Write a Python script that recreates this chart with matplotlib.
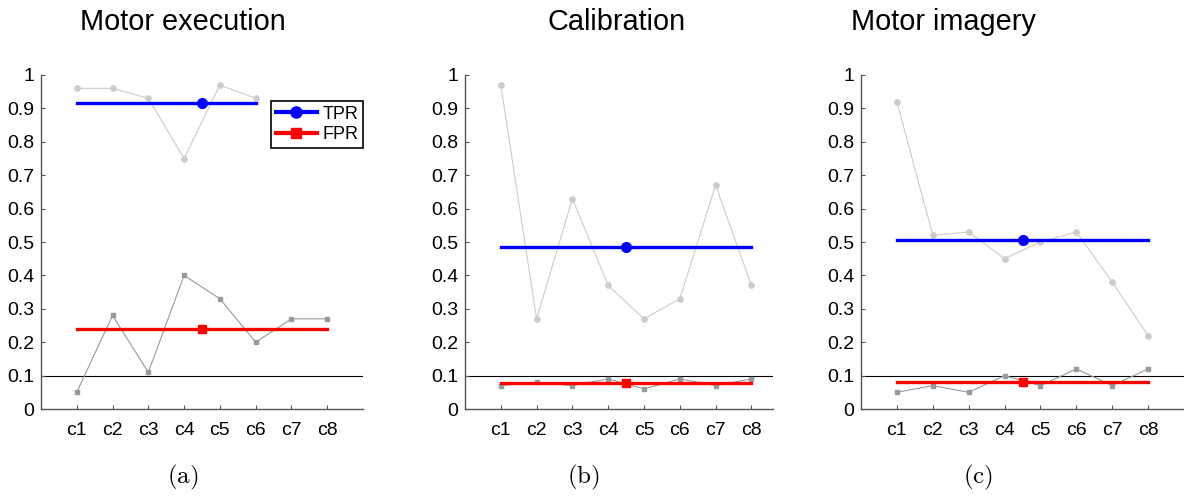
import matplotlib
matplotlib.use('Agg')
import matplotlib.pyplot as plt
import numpy as np

plt.rcParams['font.family'] = ['Liberation Sans', 'DejaVu Sans']
plt.rcParams['mathtext.fontset'] = 'cm'

conds = ['c1', 'c2', 'c3', 'c4', 'c5', 'c6', 'c7', 'c8']
titles = ['Motor execution', 'Calibration', 'Motor imagery']
captions = ['(a)', '(b)', '(c)']

# per-condition rates
tpr_exec = [0.96, 0.96, 0.93, 0.75, 0.97, 0.93]   # only c1..c6
fpr_exec = [0.05, 0.28, 0.11, 0.40, 0.33, 0.20, 0.27, 0.27]
tpr_calib = [0.97, 0.27, 0.63, 0.37, 0.27, 0.33, 0.67, 0.37]
fpr_calib = [0.07, 0.08, 0.07, 0.09, 0.06, 0.09, 0.07, 0.09]
tpr_imag = [0.92, 0.52, 0.53, 0.45, 0.50, 0.53, 0.38, 0.22]
fpr_imag = [0.05, 0.07, 0.05, 0.10, 0.07, 0.12, 0.07, 0.12]

threshold = 0.1

panels = [(tpr_exec, fpr_exec), (tpr_calib, fpr_calib), (tpr_imag, fpr_imag)]

fig = plt.figure(figsize=(11.84, 4.98), dpi=100)
# [left, bottom, width, height] and right x-limit for each subplot
rects = [[0.0346, 0.1787, 0.2720, 0.6707],
         [0.3927, 0.1787, 0.2601, 0.6707],
         [0.7272, 0.1787, 0.2728, 0.6707]]
xright = [9, 8.6, 9]
title_x = [183, 617, 943]
cap_x = [183, 583, 978]

for i, (tpr, fpr) in enumerate(panels):
    ax = fig.add_axes(rects[i])
    xt = np.arange(1, len(tpr) + 1)
    xf = np.arange(1, len(fpr) + 1)
    ax.axhline(threshold, color='black', lw=0.8, zorder=1)
    ax.plot(xt, tpr, '-o', color='#cccccc', lw=0.8, ms=3.8, mec='#cccccc', zorder=2)
    ax.plot(xf, fpr, '-s', color='#999999', lw=0.8, ms=3.3, mec='#999999', zorder=2)

    mt = np.mean(tpr)
    mf = np.mean(fpr)
    ax.plot([xt[0], xt[-1]], [mt, mt], color='blue', lw=2.4, zorder=3)
    ax.plot([xf[0], xf[-1]], [mf, mf], color='red', lw=2.4, zorder=3)
    ax.plot([4.5], [mt], 'o', color='blue', ms=7, zorder=4)
    ax.plot([4.5], [mf], 's', color='red', ms=6, zorder=4)

    ax.set_xlim(0, xright[i])
    ax.set_ylim(0, 1)
    ax.set_xticks(np.arange(1, 9))
    ax.set_xticklabels(conds)
    ax.set_yticks(np.arange(0, 1.01, 0.1))
    ax.set_yticklabels(['0'] + ['%.1f' % v for v in np.arange(0.1, 0.95, 0.1)] + ['1'])
    ax.tick_params(direction='in', length=3, labelsize=14, color='#555555', pad=5)
    ax.tick_params(axis='x', pad=9)
    for s in ['top', 'right']:
        ax.spines[s].set_visible(False)
    for s in ['left', 'bottom']:
        ax.spines[s].set_color('#555555')
        ax.spines[s].set_linewidth(1.0)

    if i == 0:
        h1, = ax.plot([], [], '-o', color='blue', lw=3, ms=8)
        h2, = ax.plot([], [], '-s', color='red', lw=3, ms=7)
        leg = ax.legend([h1, h2], ['TPR', 'FPR'], loc='upper right',
                        bbox_to_anchor=(1.0, 0.922), fontsize=13, fancybox=False,
                        framealpha=1, edgecolor='black', handlelength=2.3,
                        borderpad=0.25, labelspacing=0.2, handletextpad=0.3,
                        borderaxespad=0)
        leg.get_frame().set_linewidth(1.2)

    fig.text(title_x[i] / 1184, 1 - 22 / 498, titles[i], ha='center', va='center',
             fontsize=20.8)
    fig.text(cap_x[i] / 1184, 1 - 477 / 498, '$\\mathrm{' + captions[i] + '}$',
             ha='center', va='center', fontsize=18)

fig.savefig('out.png', dpi=100)
